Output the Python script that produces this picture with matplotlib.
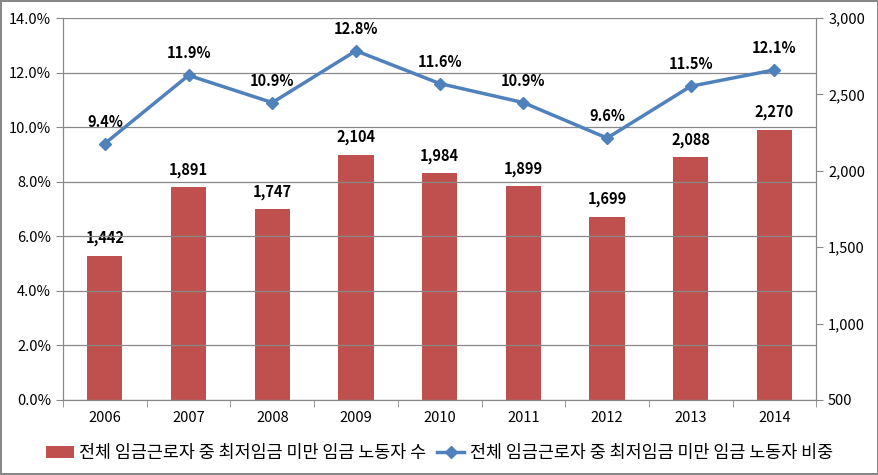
import numpy as np
import matplotlib.pyplot as plt
from matplotlib.ticker import FuncFormatter, FixedLocator

plt.rcParams['font.family'] = ['Noto Sans CJK KR', 'DejaVu Sans']

years = ["2006", "2007", "2008", "2009", "2010", "2011", "2012", "2013", "2014"]
workers = [1442, 1891, 1747, 2104, 1984, 1899, 1699, 2088, 2270]
share = [9.4, 11.9, 10.9, 12.8, 11.6, 10.9, 9.6, 11.5, 12.1]
bar_name = "전체 임금근로자 중 최저임금 미만 임금 노동자 수"
line_name = "전체 임금근로자 중 최저임금 미만 임금 노동자 비중"

fig = plt.figure(figsize=(8.79, 4.75), dpi=100)
fig.patch.set_edgecolor("#888888")
fig.patch.set_linewidth(1.5)
ax = fig.add_axes([0.0717, 0.158, 0.857, 0.804])
ax2 = ax.twinx()

x = np.arange(len(years))

# bars on the right axis, starting at the axis bottom (500)
bars = ax2.bar(x, np.array(workers) - 500, bottom=500, width=0.42,
               color="#C0504D", label=bar_name, zorder=2)
for xi, v in zip(x, workers):
    ax2.annotate(f"{v:,}", (xi, v), xytext=(0, 7), textcoords="offset points",
                 ha="center", va="bottom", fontsize=10.5, fontweight="bold")
ax2.set_ylim(500, 3000)
ax2.yaxis.set_major_locator(FixedLocator(np.arange(500, 3001, 500)))
ax2.yaxis.set_major_formatter(FuncFormatter(lambda v, p: f"{v:,.0f}"))

# line on the left axis
ln, = ax.plot(x, share, color="#4F81BD", lw=2.5, marker="D", ms=6,
              label=line_name, zorder=5)
for xi, v in zip(x, share):
    ax.annotate(f"{v:.1f}%", (xi, v), xytext=(0, 10), textcoords="offset points",
                ha="center", va="bottom", fontsize=10.5, fontweight="bold")
ax.set_ylim(0, 14)
ax.set_yticks(np.arange(0, 14.1, 2))
ax.yaxis.set_major_formatter(FuncFormatter(lambda v, p: f"{v:.1f}%"))
ax.set_xlim(-0.5, len(years) - 0.5)
ax.set_xticks(x)
ax.set_xticklabels(years)
ax.set_xticks(np.arange(-0.5, len(years)), minor=True)
ax.tick_params(axis="x", which="major", length=0, pad=8)
ax.tick_params(axis="x", which="minor", length=5, color="#888888")
ax.tick_params(axis="y", length=5, color="#888888")
ax2.tick_params(axis="y", length=5, color="#888888")
for a in (ax, ax2):
    a.tick_params(labelsize=10.5)

ax.grid(axis="y", color="#888888", lw=0.9)
ax.set_axisbelow(True)
ax.set_zorder(ax2.get_zorder() + 1)
ax.patch.set_visible(False)

for a in (ax, ax2):
    a.spines["top"].set_visible(False)
    for s in ("left", "right", "bottom"):
        a.spines[s].set_color("#888888")

fig.legend([bars, ln], [bar_name, line_name], loc="lower center",
           bbox_to_anchor=(0.5, -0.005), ncol=2, frameon=False, fontsize=12.5,
           handlelength=1.6, handletextpad=0.3, columnspacing=0.6)

fig.savefig("out.png", dpi=100, edgecolor=fig.get_edgecolor())
